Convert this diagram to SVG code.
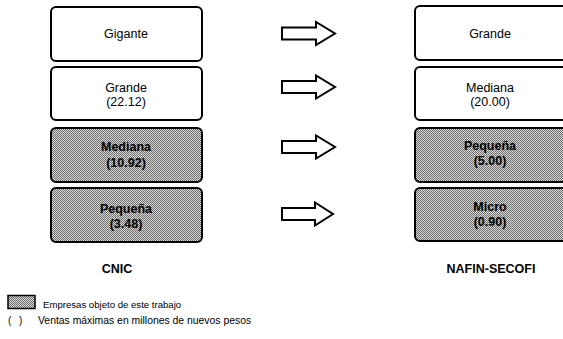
<svg xmlns="http://www.w3.org/2000/svg" width="563" height="339" viewBox="0 0 563 339" overflow="hidden">
<defs>
<pattern id="dots" width="2" height="2" patternUnits="userSpaceOnUse">
<rect width="2" height="2" fill="#dcdcdc"/>
<rect x="0" y="0" width="1" height="1" fill="#6a6a6a"/>
<rect x="1" y="1" width="1" height="1" fill="#6a6a6a"/>
</pattern>
<clipPath id="page"><rect x="0" y="0" width="563" height="339"/></clipPath>
</defs>
<style>
.box{fill:#fff;stroke:#000;stroke-width:2}
.shade{fill:url(#dots);stroke:#000;stroke-width:2}
.t{font-family:"Liberation Sans",Arial,sans-serif;font-size:12.5px;fill:#000;text-anchor:middle}
.b{font-weight:bold}
.arr{fill:#fff;stroke:#000;stroke-width:2;stroke-linejoin:miter}
.leg{font-family:"Liberation Sans",Arial,sans-serif;font-size:10px;fill:#000}
.lab{font-family:"Liberation Sans",Arial,sans-serif;font-size:12.5px;font-weight:bold;fill:#000;text-anchor:middle}
</style>
<g clip-path="url(#page)">
<rect width="563" height="339" fill="#fff"/>
<g id="cnic-gigante"><rect class="box" x="51" y="7" width="151" height="54" rx="5"/><text class="t" x="126" y="38">Gigante</text></g>
<g id="cnic-grande"><rect class="box" x="51" y="67" width="151" height="53" rx="5"/><text class="t" x="126" y="92">Grande</text><text class="t" x="126" y="106">(22.12)</text></g>
<g id="cnic-mediana"><rect class="shade" x="51" y="128" width="151" height="54" rx="5"/><text class="t b" x="126" y="151">Mediana</text><text class="t b" x="126" y="167">(10.92)</text></g>
<g id="cnic-pequena"><rect class="shade" x="51" y="188" width="151" height="54" rx="5"/><text class="t b" x="126" y="213">Pequeña</text><text class="t b" x="126" y="228">(3.48)</text></g>
<g id="nafin-grande"><rect class="box" x="415" y="6" width="155" height="54" rx="5"/><text class="t" x="490" y="38">Grande</text></g>
<g id="nafin-mediana"><rect class="box" x="415" y="67" width="155" height="53" rx="5"/><text class="t" x="490" y="92">Mediana</text><text class="t" x="490" y="106">(20.00)</text></g>
<g id="nafin-pequena"><rect class="shade" x="415" y="128" width="155" height="54" rx="5"/><text class="t b" x="490" y="150">Pequeña</text><text class="t b" x="490" y="165">(5.00)</text></g>
<g id="nafin-micro"><rect class="shade" x="415" y="188" width="155" height="53" rx="5"/><text class="t b" x="490" y="211">Micro</text><text class="t b" x="490" y="226">(0.90)</text></g>
<g id="connectors">
<path class="arr" d="M282,27.5 H316 V22 L335,33.5 L316,45 V39.5 H282 Z"/>
<path class="arr" d="M282,81 H316 V75.5 L335,87 L316,98.5 V93 H282 Z"/>
<path class="arr" d="M282,141 H316 V135.5 L335,147 L316,158.5 V153 H282 Z"/>
<path class="arr" d="M282,208 H315 V202.5 L333,214 L315,225.5 V220 H282 Z"/>
</g>
<g id="labels">
<text class="lab" x="117" y="273">CNIC</text>
<text class="lab" x="491" y="273">NAFIN-SECOFI</text>
</g>
<g id="legend">
<rect x="8" y="295.5" width="27" height="13" fill="url(#dots)" stroke="#000" stroke-width="1.5"/>
<text class="leg" x="43" y="308" style="font-size:9.6px">Empresas objeto de este trabajo</text>
<text class="leg" x="8" y="324">(</text>
<text class="leg" x="19" y="324">)</text>
<text class="leg" x="38" y="324" style="font-size:10.4px">Ventas máximas en millones de nuevos pesos</text>
</g>
</g>
</svg>
